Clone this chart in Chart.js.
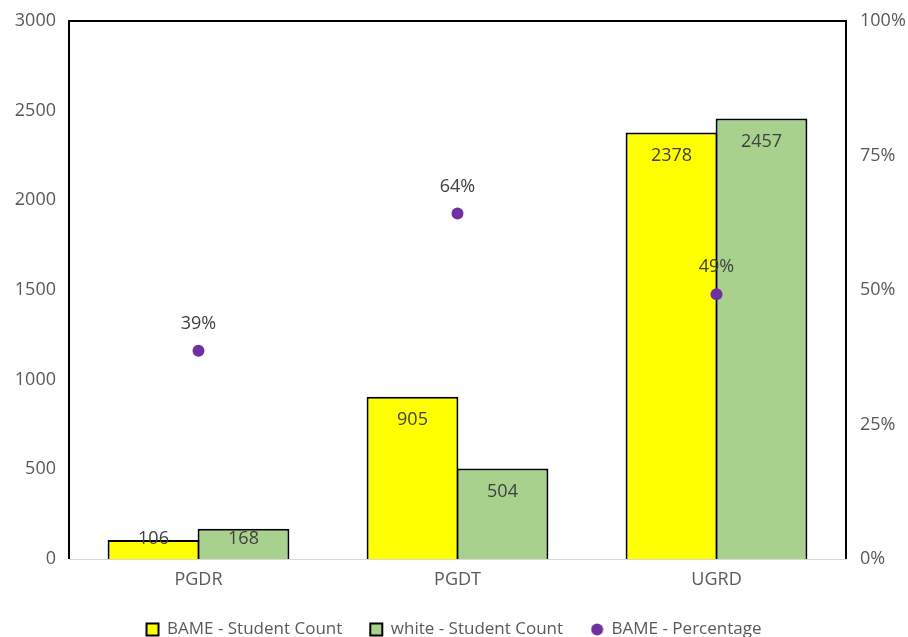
<!DOCTYPE html>
<html>
<head>
<meta charset="utf-8">
<script src="https://cdn.jsdelivr.net/npm/chart.js@4.4.0/dist/chart.umd.min.js"></script>
<style>
  html, body { margin: 0; padding: 0; background: #fff; }
  #wrap { width: 908px; height: 637px; }
</style>
</head>
<body>
<div id="wrap"><canvas id="chart"></canvas></div>
<script>
const categories = ["PGDR", "PGDT", "UGRD"];
const bameCount = [106, 905, 2378];
const whiteCount = [168, 504, 2457];
const bamePct = [0.387, 0.642, 0.492];

const countTicks = [0, 500, 1000, 1500, 2000, 2500, 3000];
const pctTicks = [0, 0.25, 0.5, 0.75, 1];

const fontFamily = "'Open Sans', 'Liberation Sans', sans-serif";
const textColor = "#595959";
const purple = "#7030a0";

// small dot for the legend entry of the percentage series
const legendDot = document.createElement("canvas");
legendDot.width = 13;
legendDot.height = 13;
(function () {
    const c = legendDot.getContext("2d");
    c.fillStyle = purple;
    c.beginPath();
    c.arc(6.5, 6.5, 6, 0, Math.PI * 2);
    c.fill();
})();

// frame round plot area (left, top, right) + value labels
const framePlugin = {
    id: "frame",
    afterDraw(chart) {
        const ctx = chart.ctx;
        const a = chart.chartArea;
        ctx.save();
        ctx.strokeStyle = "#000";
        ctx.lineWidth = 2;
        ctx.beginPath();
        ctx.moveTo(a.left, a.bottom);
        ctx.lineTo(a.left, a.top);
        ctx.lineTo(a.right, a.top);
        ctx.lineTo(a.right, a.bottom);
        ctx.stroke();

        ctx.font = "18px " + fontFamily;
        ctx.fillStyle = "#404040";
        ctx.textAlign = "center";
        ctx.textBaseline = "middle";

        [0, 1].forEach(function (di) {
            const meta = chart.getDatasetMeta(di);
            const vals = chart.data.datasets[di].data;
            meta.data.forEach(function (bar, i) {
                let y = bar.y + 23;
                if (y > a.bottom - 20) y = a.bottom - 20;
                ctx.fillText(String(vals[i]), bar.x, y);
            });
        });

        const pm = chart.getDatasetMeta(2);
        const pv = chart.data.datasets[2].data;
        pm.data.forEach(function (pt, i) {
            ctx.fillText(Math.round(pv[i] * 100) + "%", pt.x, pt.y - 27);
        });
        ctx.restore();
    }
};

function noVertPad(scale) {
    scale.paddingTop = 0;
    scale.paddingBottom = 0;
}

new Chart(document.getElementById("chart"), {
    data: {
        labels: categories,
        datasets: [
            {
                type: "bar",
                label: "BAME - Student Count",
                data: bameCount,
                backgroundColor: "#ffff00",
                borderColor: "#000",
                borderWidth: 2,
                yAxisID: "y",
                pointStyle: "rect",
                order: 2
            },
            {
                type: "bar",
                label: "white - Student Count",
                data: whiteCount,
                backgroundColor: "#a9d18e",
                borderColor: "#000",
                borderWidth: 2,
                yAxisID: "y",
                pointStyle: "rect",
                order: 2
            },
            {
                type: "line",
                label: "BAME - Percentage",
                data: bamePct,
                showLine: false,
                pointStyle: "circle",
                pointRadius: 6,
                pointHoverRadius: 6,
                backgroundColor: purple,
                borderColor: purple,
                borderWidth: 0,
                yAxisID: "y2",
                order: 1
            }
        ]
    },
    options: {
        responsive: true,
        maintainAspectRatio: false,
        animation: false,
        layout: { padding: { left: 0, right: 0, top: 21, bottom: -11 } },
        datasets: {
            bar: { categoryPercentage: 0.695, barPercentage: 1.02 }
        },
        plugins: {
            tooltip: { enabled: false },
            legend: {
                position: "bottom",
                labels: {
                    usePointStyle: true,
                    boxWidth: 12,
                    boxHeight: 12,
                    padding: 28,
                    color: textColor,
                    font: { family: fontFamily, size: 17 },
                    generateLabels: function (chart) {
                        const items = Chart.defaults.plugins.legend.labels.generateLabels(chart);
                        items.forEach(function (it) {
                            if (it.datasetIndex === 2) it.pointStyle = legendDot;
                        });
                        return items.sort(function (a, b) { return a.datasetIndex - b.datasetIndex; });
                    }
                }
            }
        },
        scales: {
            x: {
                grid: { display: false, drawTicks: false },
                border: { display: true, color: "#d9d9d9", width: 1 },
                afterFit: function (scale) { scale.height = 34; },
                ticks: {
                    color: textColor,
                    font: { family: fontFamily, size: 18 },
                    padding: 10
                }
            },
            y: {
                position: "left",
                min: 0,
                max: 3000,
                grid: { display: false, drawTicks: false },
                border: { display: false },
                afterFit: function (scale) { scale.width = 69; noVertPad(scale); },
                afterBuildTicks: function (axis) {
                    axis.ticks = countTicks.map(function (v) { return { value: v }; });
                },
                ticks: {
                    color: textColor,
                    font: { family: fontFamily, size: 18 },
                    padding: 13,
                    callback: function (v) { return String(v); }
                }
            },
            y2: {
                position: "right",
                min: 0,
                max: 1,
                grid: { display: false, drawTicks: false },
                border: { display: false },
                afterFit: function (scale) { scale.width = 62; noVertPad(scale); },
                afterBuildTicks: function (axis) {
                    axis.ticks = pctTicks.map(function (v) { return { value: v }; });
                },
                ticks: {
                    color: textColor,
                    font: { family: fontFamily, size: 18 },
                    padding: 14,
                    callback: function (v) { return Math.round(v * 100) + "%"; }
                }
            }
        }
    },
    plugins: [framePlugin]
});
</script>
</body>
</html>
